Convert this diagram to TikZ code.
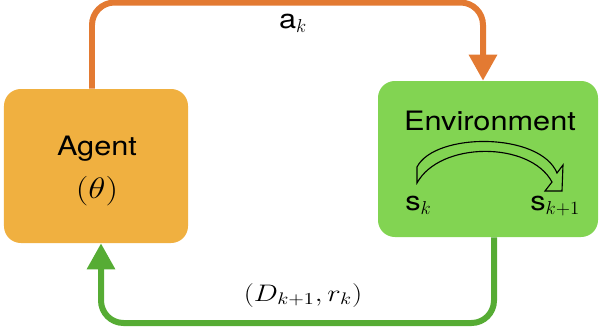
\RequirePackage{fix-cm}
\documentclass[tikz,border=0pt]{standalone}
\usepackage{amsmath,amssymb}
\usepackage[no-math]{fontspec}
\setmainfont{TeX Gyre Heros}[FakeStretch=1.15]
\usepackage{xcolor}
\usepackage{tikz}
\usetikzlibrary{arrows.meta,positioning,calc}
\definecolor{agentorange}{RGB}{240,176, 64}
\definecolor{envgreen}   {RGB}{130,212, 82}
\definecolor{actorange}  {RGB}{227,122, 50}
\definecolor{obsgreen}   {RGB}{ 86,172, 52}
\newcommand{\lblsize}{\fontsize{19}{23}\selectfont}
\newcommand{\widemath}[1]{\scalebox{1.2}[1]{$#1$}}

\begin{document}
\begin{tikzpicture}[every node/.style={font=\lblsize, inner sep=0pt},
  blockbox/.style={rounded corners=12pt},
  flow/.style={line width=0.15cm, rounded corners=16pt,
               -{Triangle[width=0.675cm,length=0.65cm]}}]

\useasboundingbox (0,0) rectangle (15,-8.275);

\node[blockbox, fill=agentorange, minimum width=4.6cm,
      minimum height=3.85cm] (agent) at (2.4,-4.15) {};
\node[anchor=base] (agentname) at (2.425,-3.875) {Agent};
\node[anchor=base, font=\fontsize{21}{25}\selectfont] (agentparam)
  at (2.425,-4.95) {\widemath{(\theta)}};

\node[blockbox, fill=envgreen, minimum width=5.5cm,
      minimum height=3.9cm] (env) at (12.2,-3.975) {};
\node[anchor=base] (envname) at (12.25,-3.25) {Environment};
\node[anchor=base west] (sk) at (10.125,-5.25) {s$_k$};
\node[anchor=base west] (sknext) at (13.25,-5.25) {s$_{k+1}$};

\draw[line width=0.8pt, line join=miter]
  (10.425,-4.175) -- (10.425,-4.575)
  .. controls (11.0,-3.525) and (13.25,-3.525) .. (13.8,-4.55)
  -- (13.625,-4.775) -- (14.05,-4.775) -- (14.075,-4.125) -- (13.925,-4.325)
  .. controls (13.5,-3.3) and (10.875,-3.3) .. (10.425,-4.175) -- cycle;

\coordinate (topway) at (7.325,-0.0625);
\coordinate (botway) at (7.575,-8.075);

\draw[flow, actorange]
  ([xshift=-0.1cm]agent.north) |- (topway) -| ([xshift=-0.125cm]env.north);
\node[anchor=base] (act) at (7.325,-0.7) {a$_k$};

\draw[flow, obsgreen]
  ([xshift=0.15cm]env.south) |- (botway) -| ([xshift=0.125cm]agent.south);
\node[anchor=base, font=\fontsize{17}{20}\selectfont] (obs)
  at (7.575,-7.525) {\widemath{(D_{k+1},r_k)}};

\end{tikzpicture}
\end{document}
